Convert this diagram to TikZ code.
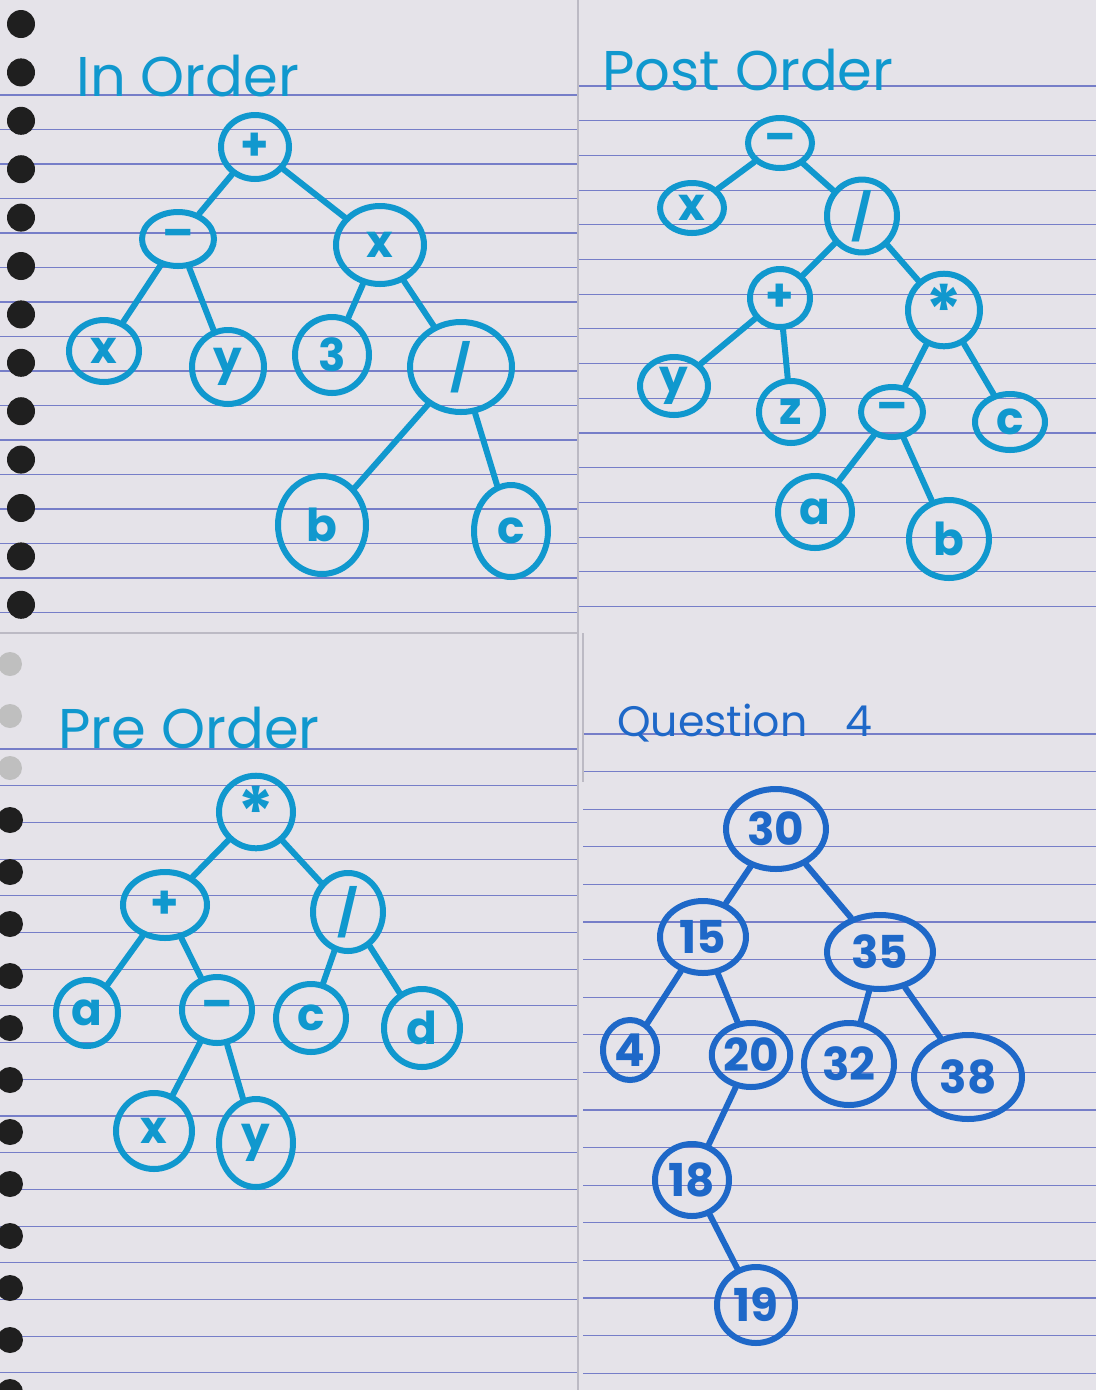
\documentclass[tikz,border=0pt]{standalone}
\usepackage{fontspec}
\setmainfont{Poppins}
\usetikzlibrary{shapes.geometric}

\definecolor{inkcyan}{RGB}{16,152,206}
\definecolor{inkblue}{RGB}{30,104,200}
\definecolor{paper}{RGB}{229,227,233}
\definecolor{ruling}{RGB}{118,126,200}
\definecolor{seam}{RGB}{188,186,196}

\newcommand{\bigstar}{\raisebox{-0.3em}{\fontsize{52}{52}\selectfont *}}

\tikzset{
  treenode/.style 2 args={ellipse, draw=inkcyan, line width=4.5pt, inner sep=0pt,
    text=inkcyan, font=\fontsize{34}{34}\selectfont\bfseries,
    minimum width=0.75pt*#1, minimum height=0.75pt*#2},
  bstnode/.style 2 args={treenode={#1}{#2}, draw=inkblue, text=inkblue},
  branch/.style={draw=inkcyan, line width=4.5pt, line cap=round},
  bstbranch/.style={branch, draw=inkblue},
  heading/.style={anchor=base west, inner sep=0pt, text=inkcyan,
    font=\fontsize{42}{42}\selectfont},
  ruleline/.style={draw=ruling, line width=0.8pt},
  seamline/.style={draw=seam, line width=1pt},
  hole/.style={fill=black!88},
  tornhole/.style={fill=black!25},
}

\begin{document}
\begin{tikzpicture}[x=0.75pt,y=0.75pt,yscale=-1,xscale=1]
  \useasboundingbox (0,0) rectangle (1096,1390);

  %Paper
  \fill[paper] (0,0) rectangle (1096,1390);
  \foreach \k in {0,...,15} \draw[ruleline] (0,95+34.5*\k) -- (577,95+34.5*\k);
  \foreach \k in {0,...,15} \draw[ruleline] (578,86+34.7*\k) -- (1096,86+34.7*\k);
  \foreach \k in {0,...,17} \draw[ruleline] (0,749+36.7*\k) -- (578,749+36.7*\k);
  \foreach \k in {0,...,17} \draw[ruleline] (583,734+37.6*\k) -- (1096,734+37.6*\k);
  \draw[seamline] (578,0) -- (578,1390);
  \draw[seamline] (0,633) -- (578,633);
  \draw[seamline] (583,633) -- (583,782);
  %Spiral holes
  \foreach \k in {0,...,12} \fill[hole] (21,24+48.4*\k) circle [radius=14];
  \foreach \k in {0,1,2} \fill[tornhole] (10,664+52*\k) circle [radius=12];
  \foreach \k in {3,...,14} \fill[hole] (10,664+52*\k) circle [radius=13];

  % In Order
  \node[heading] (io-title) at (76,96) {In Order};
  \node[treenode={68}{64}] (io-plus) at (255,147) {+};
  \node[treenode={72}{54}] (io-minus) at (178,239) {–};
  \node[treenode={88}{78}] (io-times) at (380,245) {x};
  \node[treenode={70}{62}] (io-x) at (104,351) {x};
  \node[treenode={72}{74}] (io-y) at (228,367) {y};
  \node[treenode={74}{76}] (io-three) at (332,355) {3};
  \node[treenode={102}{90}] (io-div) at (461,367) {/};
  \node[treenode={88}{98}] (io-b) at (322,525) {b};
  \node[treenode={74}{92}] (io-c) at (511,531) {c};
  \draw[branch] (io-plus) -- (io-minus);
  \draw[branch] (io-plus) -- (io-times);
  \draw[branch] (io-minus) -- (io-x);
  \draw[branch] (io-minus) -- (io-y);
  \draw[branch] (io-times) -- (io-three);
  \draw[branch] (io-times) -- (io-div);
  \draw[branch] (io-div) -- (io-b);
  \draw[branch] (io-div) -- (io-c);

  % Post Order
  \node[heading] (po-title) at (602,90) {Post Order};
  \node[treenode={64}{50}] (po-minus) at (780,143) {–};
  \node[treenode={64}{50}] (po-x) at (692,208) {x};
  \node[treenode={70}{54}] (po-div) at (862,216) {/};
  \node[treenode={60}{58}] (po-plus) at (780,298) {+};
  \node[treenode={72}{60}] (po-star) at (944,310) {\bigstar};
  \node[treenode={68}{58}] (po-y) at (674,386) {y};
  \node[treenode={64}{62}] (po-z) at (791,412) {z};
  \node[treenode={62}{50}] (po-sub) at (892,412) {–};
  \node[treenode={70}{56}] (po-c) at (1010,422) {c};
  \node[treenode={74}{72}] (po-a) at (815,512) {a};
  \node[treenode={80}{78}] (po-b) at (949,539) {b};
  \draw[branch] (po-minus) -- (po-x);
  \draw[branch] (po-minus) -- (po-div);
  \draw[branch] (po-div) -- (po-plus);
  \draw[branch] (po-div) -- (po-star);
  \draw[branch] (po-plus) -- (po-y);
  \draw[branch] (po-plus) -- (po-z);
  \draw[branch] (po-star) -- (po-sub);
  \draw[branch] (po-star) -- (po-c);
  \draw[branch] (po-sub) -- (po-a);
  \draw[branch] (po-sub) -- (po-b);

  % Pre Order
  \node[heading] (pr-title) at (58,748) {Pre Order};
  \node[treenode={74}{68}] (pr-star) at (256,812) {\bigstar};
  \node[treenode={84}{66}] (pr-plus) at (165,905) {+};
  \node[treenode={70}{78}] (pr-div) at (348,912) {/};
  \node[treenode={62}{66}] (pr-a) at (87,1013) {a};
  \node[treenode={70}{66}] (pr-minus) at (217,1010) {–};
  \node[treenode={70}{68}] (pr-c) at (311,1018) {c};
  \node[treenode={76}{78}] (pr-d) at (422,1028) {d};
  \node[treenode={76}{76}] (pr-x) at (154,1131) {x};
  \node[treenode={74}{88}] (pr-y) at (256,1143) {y};
  \draw[branch] (pr-star) -- (pr-plus);
  \draw[branch] (pr-star) -- (pr-div);
  \draw[branch] (pr-plus) -- (pr-a);
  \draw[branch] (pr-plus) -- (pr-minus);
  \draw[branch] (pr-div) -- (pr-c);
  \draw[branch] (pr-div) -- (pr-d);
  \draw[branch] (pr-minus) -- (pr-x);
  \draw[branch] (pr-minus) -- (pr-y);

  % Question 4
  \node[heading, text=inkblue, font=\fontsize{32}{32}\selectfont] (q-title) at (617,736) {Question\hspace{0.9em}4};
  \node[bstnode={100}{80}] (q30) at (776,829) {30};
  \node[bstnode={86}{72}] (q15) at (703,937) {15};
  \node[bstnode={106}{74}] (q35) at (880,952) {35};
  \node[bstnode={54}{60}] (q4) at (630,1050) {4};
  \node[bstnode={68}{64}] (q20) at (751,1055) {20};
  \node[bstnode={90}{82}] (q32) at (849,1064) {32};
  \node[bstnode={108}{84}] (q38) at (968,1077) {38};
  \node[bstnode={74}{72}] (q18) at (692,1180) {18};
  \node[bstnode={78}{76}] (q19) at (756,1305) {19};
  \draw[bstbranch] (q30) -- (q15);
  \draw[bstbranch] (q30) -- (q35);
  \draw[bstbranch] (q15) -- (q4);
  \draw[bstbranch] (q15) -- (q20);
  \draw[bstbranch] (q35) -- (q32);
  \draw[bstbranch] (q35) -- (q38);
  \draw[bstbranch] (q20) -- (q18);
  \draw[bstbranch] (q18) -- (q19);
\end{tikzpicture}
\end{document}
